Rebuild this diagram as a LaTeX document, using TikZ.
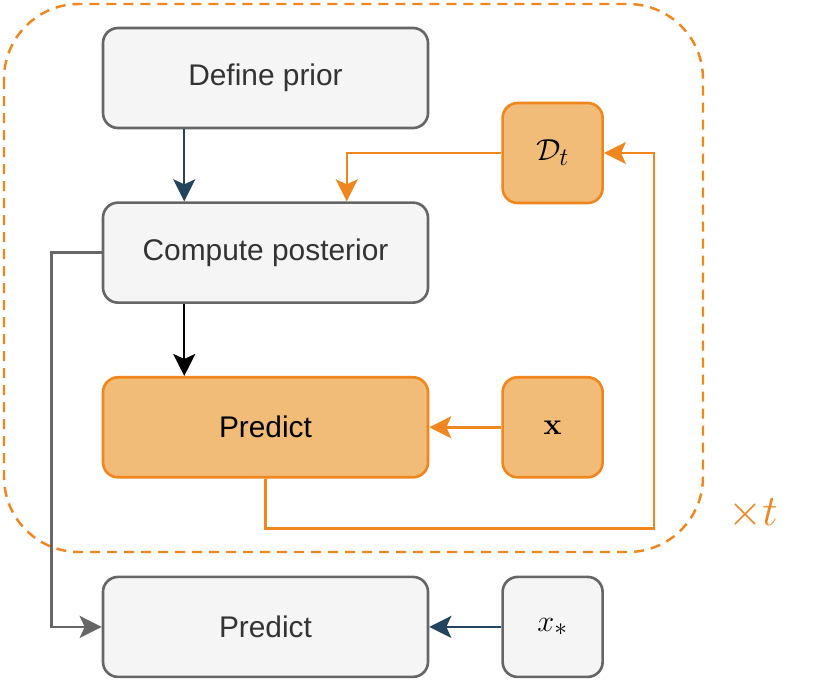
\documentclass[tikz,border=0pt]{standalone}
\usepackage{amsmath, amssymb}
\usepackage[no-math]{fontspec}
\setmainfont{Liberation Sans}
\usetikzlibrary{positioning, arrows.meta, calc}

\definecolor{boxgrey}{HTML}{F5F5F5}
\definecolor{edgegrey}{HTML}{666666}
\definecolor{textgrey}{HTML}{333333}
\definecolor{boxorange}{HTML}{F0BC78}
\definecolor{edgeorange}{HTML}{F0861E}
\definecolor{darkblue}{HTML}{23445D}

\begin{document}
\begin{tikzpicture}[
    greybox/.style={rectangle, draw=edgegrey, line width=1.5pt, fill=boxgrey,
                    text=textgrey, font=\fontsize{17}{20}\selectfont,
                    rounded corners=0.3cm, minimum width=6.5cm, minimum height=2cm},
    orangebox/.style={greybox, draw=edgeorange, fill=boxorange, text=black},
    smallgrey/.style={greybox, text=black, minimum width=2cm, font=\fontsize{19}{22}\selectfont},
    smallorange/.style={orangebox, minimum width=2cm, font=\fontsize{19}{22}\selectfont},
    loopframe/.style={draw=edgeorange, line width=1.4pt, dash pattern=on 0.2cm off 0.14cm,
                      rounded corners=1.5cm},
    arrow/.style={line width=1.4pt, -{Stealth[length=0.44cm, width=0.44cm, inset=0.1cm]}}
]
    \useasboundingbox (0,0) rectangle (16.62,-13.7);

    % loop frame
    \draw[loopframe] (0.08,-0.08) rectangle (14.06,-11.04);
    \node[text=edgeorange, font=\fontsize{26}{30}\selectfont] (times) at (15.06,-10.28) {$\times t$};

    \node[greybox]                          (prior)    at (5.31,-1.56) {Define prior};
    \node[greybox, below=1.44cm of prior]   (post)     {Compute posterior};
    \node[orangebox, below=1.44cm of post]  (pred)     {Predict};
    \node[greybox, below=1.94cm of pred]    (predstar) {Predict};
    \node[smallorange, right=1.44cm of pred]     (xin)   {$\mathbf{x}$};
    \node[smallgrey, right=1.44cm of predstar]   (xstar) {$x_*$};
    \node[smallorange, anchor=south west]   (data) at ([xshift=1.44cm, yshift=-0.06cm]post.north east) {$\mathcal{D}_t$};

    \draw[arrow, darkblue] ([xshift=-1.625cm]prior.south) -- ([xshift=-1.625cm]post.north);
    \draw[arrow, black]    ([xshift=-1.625cm]post.south)  -- ([xshift=-1.625cm]pred.north);
    \draw[arrow, edgeorange] (xin) -- (pred);
    \draw[arrow, edgeorange] (data.west) -| ([xshift=1.625cm]post.north);
    \draw[arrow, edgeorange] (pred.south) -- ++(0,-1) -| ([xshift=1cm]data.east) -- (data.east);
    \draw[arrow, edgegrey]  (post.west) -- ++(-1,0) |- (predstar.west);
    \draw[arrow, darkblue]  (xstar) -- (predstar);
\end{tikzpicture}
\end{document}
